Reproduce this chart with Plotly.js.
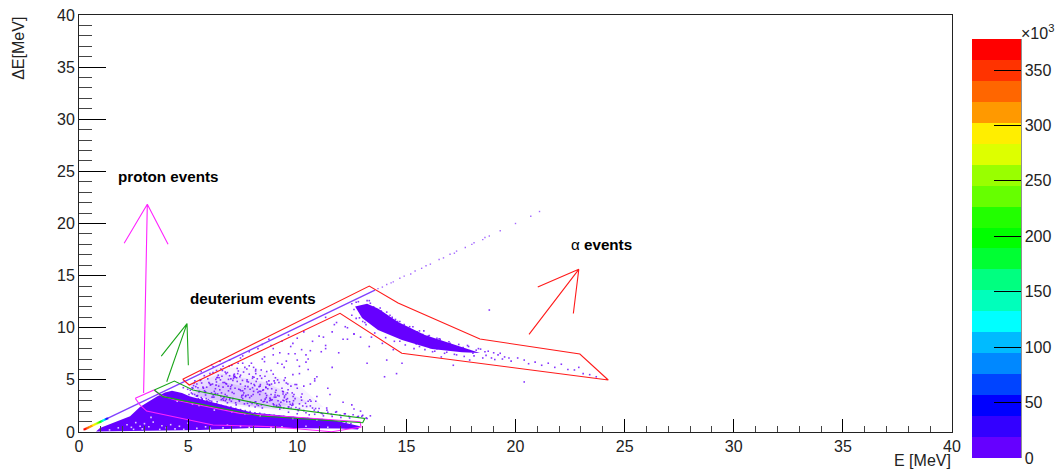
<!DOCTYPE html>
<html><head><meta charset="utf-8">
<script src="https://cdn.plot.ly/plotly-3.0.1.min.js"></script>
<style>html,body{margin:0;padding:0;background:#fff}#c{width:1061px;height:471px}</style>
</head><body><div id="c"></div>
<script>
// Graphical cuts (E, dE in MeV)
const alphaCutE=[4.75,13.30,14.62,18.37,22.95,24.25,14.79,11.96,5.05,4.75];
const alphaCutD=[5.06,14.0,12.37,8.92,7.48,4.99,7.55,11.39,4.51,5.06];
const protonCutE=[2.58,3.44,3.71,4.40,7.38,12.88,12.92,11.58,8.89,6.14,3.10,2.79,2.58];
const protonCutD=[3.23,4.03,3.55,3.07,1.79,0.99,0.48,0.03,0.51,0.67,2.01,2.59,3.23];
const deutCutE=[3.45,4.37,5.22,8.89,13.10,13.0,8.29,3.85,3.45];
const deutCutD=[4.03,4.89,4.03,2.43,1.31,0.89,1.53,3.39,4.03];
// Arrows
const protonArrowE=[2.96,3.13,2.07,3.13,4.08];
const protonArrowD=[3.73,21.85,18.1,21.85,18.0];
const deutArrowE=[4.02,4.95,3.77,4.95,5.01];
const deutArrowD=[4.82,10.4,7.27,10.4,6.4];
const alphaArrowE=[20.62,22.9,21.02,22.9,22.65];
const alphaArrowD=[9.37,15.6,13.9,15.6,11.37];
// Dense event regions
const mainE=[0.78,0.96,2.34,2.79,3.57,3.94,4.26,4.72,5.09,6.92,7.97,9.99,11.5,12.88,12.78,11.96,7.97,5.55,0.78];
const mainD=[0.05,0.38,1.5,2.4,3.4,3.8,3.95,3.75,3.4,2.4,1.85,1.45,1.2,0.55,0.25,0.33,0.38,0.19,0.05];
const alphaBandE=[12.65,13.2,13.7,14.62,15.85,17.6,18.37,17.55,16.17,14.8,13.7,12.97,12.65];
const alphaBandD=[12.05,12.3,11.85,10.55,9.3,8.15,7.58,7.65,7.96,8.82,9.78,10.93,12.05];
const hazeOuterE=[5.0,6.3,8.3,10.2,11.2,9.5,7,5.2,5.0];
const hazeOuterD=[4.6,6.3,6.0,4.3,2.4,2.0,2.5,3.4,4.6];
const hazeE=[5.09,6.5,8.5,10.5,9,7,5.3,5.09];
const hazeD=[4.5,5.6,4.8,2.9,2.2,2.7,3.4,4.5];
const hazeCoreE=[5.3,6.6,8.2,9.6,8.4,6.8,5.5,5.3];
const hazeCoreD=[4.0,4.8,4.1,2.6,2.3,2.8,3.4,4.0];
const diagE=[1.33,13.56];
const diagD=[1.33,13.6];
// Low-energy end of the diagonal, with bin content
const hotE=[0.25,0.3,0.35,0.4,0.45,0.5,0.55,0.6,0.65,0.7,0.75,0.8,0.85,0.9,0.95,1.0,1.05,1.1,1.15,1.2,1.25,1.3];
const hotD=[0.25,0.3,0.35,0.4,0.45,0.5,0.55,0.6,0.65,0.7,0.75,0.8,0.85,0.9,0.95,1.0,1.05,1.1,1.15,1.2,1.25,1.3];
const hotCounts=[370,360,350,340,330,320,315,305,300,290,280,265,250,235,215,195,170,150,130,100,70,30];
// Sparse events on the diagonal
const diagDotE=[13.7,13.9,14.1,14.3,14.4,14.7,14.9,15.2,15.4,15.7,15.9,16.1,16.5,16.7,17.0,17.2,17.3,17.7,18.0,18.1,18.5,18.6,18.8,19.3,20.0,20.7,21.1];
const diagDotD=[13.75,13.9,14.15,14.3,14.4,14.75,14.95,15.15,15.45,15.7,15.95,16.1,16.55,16.7,17.05,17.15,17.35,17.7,18.0,18.15,18.45,18.65,18.8,19.3,20.0,20.7,21.15];
// Cloud of events above the deuterium band
const cloudE=[
5.1,5.3,5.4,5.6,5.7,5.9,6.0,6.2,6.3,6.5,
6.6,6.8,6.9,7.1,7.2,7.4,7.5,7.7,7.8,8.0,
8.1,8.3,8.4,8.6,8.7,8.9,9.0,9.2,9.3,9.5,
5.25,5.5,5.8,6.05,6.35,6.55,6.85,7.05,7.35,7.6,
7.9,8.15,8.45,8.75,9.05,9.35,5.15,5.45,5.65,5.95,
6.15,6.45,6.75,6.95,7.25,7.55,7.85,8.05,8.35,8.65,
8.95,9.25,9.55,9.75,6.25,6.7,7.15,7.65,8.2,8.8,
5.35,5.75,6.4,6.62,7.0,7.45,7.95,8.5,9.1,9.65,
5.55,5.85,6.1,6.48,6.78,7.08,7.38,7.72,8.02,8.28,
8.58,8.82,9.12,9.42,9.72,9.9,10.1,10.3,10.5,10.7,
9.6,9.8,10.0,10.2,10.4,10.6,10.8,11.0,11.2,11.4,
9.85,10.05,10.25,10.55,10.85,11.1,11.35,11.6,11.8,12.0,
12.2,12.4,12.6,12.8,13.0,13.2,12.1,12.5,12.9,13.35,
6.0,6.3,6.5,6.8,7.0,7.3,7.5,7.8,8.0,8.3,
8.5,8.8,9.0,9.3,9.5,9.8,10.0,10.3,10.5,10.8,
6.6,6.9,7.1,7.4,7.6,7.9,8.1,8.4,8.6,8.9,
9.1,9.4,9.6,9.9,10.1,10.4,10.6,10.9,11.1,11.4,
7.5,7.8,8.2,8.5,8.8,9.2,9.5,9.8,10.2,10.5,
8.1,8.4,8.9,9.3,9.7,10.0,10.4,10.7,11.0,11.3,
8.7,9.1,9.6,10.1,10.6,11.2,11.6,11.9,12.2,12.6,
9.4,9.9,10.3,10.8,11.3,11.7,12.3,12.7,10.9,11.5,
5.6,6.15,6.7,7.25,7.8,8.35,8.9,9.45,10.0,6.9,
5.8,6.25,6.6,7.05,7.5,8.05,8.55,9.05,9.55,10.1,
7.15,7.7,8.25,8.8,9.35,6.35,6.85,7.4,7.95,8.6,
5.12,5.31,5.52,5.74,5.93,6.14,6.33,6.57,6.71,6.96,7.18,7.37,
5.22,5.43,5.62,5.83,6.02,6.23,6.42,6.64,6.83,7.02,7.27,7.46,
7.58,7.76,7.98,8.17,8.36,8.56,8.74,8.97,9.14,9.33,9.52,9.71,
7.63,7.84,8.07,8.26,8.44,8.63,8.85,9.03,9.22,9.41,9.62,9.83,
5.04,5.28,5.47,5.68,5.88,6.07,6.28,6.52,6.73,6.91,7.12,7.32,
7.52,7.74,7.93,8.12,8.33,8.53,8.72,8.93,9.17,9.38,9.58,9.79,
5.18,5.38,5.58,5.78,5.98,6.18,6.38,6.58,6.76,6.98,7.22,7.42,
7.62,7.82,8.02,8.22,8.42,8.62,8.83,9.02,9.26,9.48,9.68,9.94,
6.12,6.32,6.53,6.74,6.94,7.14,7.34,7.54,7.75,7.96,8.16,8.37,
8.57,8.77,8.98,9.18,9.39,9.59,9.81,10.02,10.22,10.43,10.63,10.84,
6.08,6.27,6.46,6.67,6.88,7.09,7.29,7.49,7.69,7.89,8.09,8.31,
8.52,8.73,8.94,9.16,9.36,9.57,9.77,9.97,10.18,10.38,10.58,10.78,
10.96,11.16,11.36,11.56,11.76,11.96,12.16,12.36,12.56,12.76,12.96,13.16,
4.78,4.98,5.2,5.42,5.64,5.86,6.08,6.3,6.52,6.74,6.96,7.18,
7.4,7.62,7.84,8.06,8.28,8.5,8.72,8.94,9.16,9.38,9.6,9.82,
10.04,10.26,10.48,10.7,10.92,11.14,11.36,11.58,11.8,12.02,12.24,12.46];
const cloudD=[
4.0,3.6,4.6,3.3,4.2,5.1,3.0,3.9,4.8,3.4,
4.3,2.8,5.4,3.7,2.6,4.6,3.2,5.0,2.5,3.9,
2.9,4.4,2.3,3.5,4.9,2.7,3.8,2.2,4.2,3.1,
4.45,3.85,3.55,4.55,3.65,5.35,3.95,4.95,2.95,4.15,
3.45,2.65,4.05,3.25,2.45,3.65,3.75,4.25,3.15,4.75,
3.55,4.05,3.15,4.35,4.85,3.75,2.85,4.45,3.05,4.15,
3.35,2.85,3.75,2.55,4.15,3.6,4.2,3.5,3.8,3.05,
4.35,3.95,4.4,3.05,4.5,3.35,4.25,2.95,3.5,2.9,
4.95,4.3,3.35,5.0,3.45,5.15,4.05,2.75,4.55,3.6,
3.3,4.6,3.0,3.45,2.3,3.2,2.7,2.05,2.95,2.3,
1.9,2.6,1.75,3.05,1.85,2.5,1.7,2.25,1.55,1.9,
3.6,2.05,2.5,1.65,2.95,1.8,2.3,1.5,1.95,1.4,
1.75,1.35,2.2,1.5,1.6,1.3,2.85,2.6,2.0,1.55,
5.6,5.9,6.05,5.7,6.4,5.85,6.6,5.55,6.2,5.4,
6.75,5.9,5.2,6.5,4.7,5.5,6.9,4.4,6.0,4.9,
6.3,6.9,5.3,7.1,6.2,6.6,5.6,7.0,5.8,7.4,
5.0,6.2,7.5,4.55,5.6,6.7,4.6,5.3,7.7,4.2,
7.3,7.7,8.0,7.2,8.3,7.6,6.8,8.5,7.9,7.0,
6.0,8.4,8.0,8.7,8.2,9.0,7.4,8.7,9.2,8.0,
8.9,6.6,9.3,6.3,7.8,9.1,6.2,7.6,10.1,9.4,
4.95,7.5,9.6,5.1,8.3,10.3,8.9,10.9,3.4,3.6,
5.8,6.25,5.75,6.1,6.35,5.95,5.55,5.2,4.2,3.1,
3.85,3.7,4.75,3.2,3.95,2.85,3.7,2.55,3.2,2.25,
5.25,4.85,4.35,3.6,3.05,5.25,5.05,5.45,5.15,4.8,
3.3,4.9,3.9,5.4,3.1,5.7,2.9,5.9,3.0,5.1,2.8,5.3,
4.2,3.5,4.7,3.2,4.5,3.6,5.2,3.3,4.4,3.8,5.6,3.5,
2.7,4.8,3.6,5.1,2.6,4.3,3.0,4.7,2.4,3.9,2.9,4.4,
3.4,4.1,2.4,3.9,2.9,4.6,3.1,4.0,2.5,3.3,2.4,3.0,
3.6,4.7,3.2,4.3,2.9,3.75,4.5,3.1,4.65,3.25,5.55,4.1,
3.55,4.35,2.75,4.85,3.9,3.15,4.55,2.6,3.45,2.3,4.05,2.75,
4.25,3.45,5.0,3.8,4.65,3.35,5.45,3.2,4.6,2.95,5.2,3.95,
4.4,3.3,5.25,2.55,4.0,2.85,4.15,3.35,2.35,3.6,2.65,2.35,
4.6,5.2,3.75,5.6,4.15,5.35,3.05,5.75,3.55,5.3,4.1,5.15,
4.25,3.15,3.55,2.65,3.0,2.4,3.4,2.15,3.65,2.45,2.95,2.25,
6.45,5.05,6.8,4.75,6.3,5.45,6.6,4.95,6.05,4.65,5.85,4.55,
5.35,4.5,4.9,4.75,3.85,4.6,3.75,4.55,3.35,2.75,3.1,2.1,
1.95,1.75,2.1,1.7,1.9,1.6,1.75,1.5,1.65,1.45,1.5,1.35,
4.25,4.1,3.65,3.45,3.15,3.0,2.95,2.7,2.55,2.45,2.4,2.25,
2.15,2.05,1.95,1.85,1.8,1.7,1.65,1.6,1.55,1.5,1.45,1.4,
1.35,1.3,1.3,1.25,1.2,1.2,1.15,1.05,1.0,0.95,0.9,0.8];
// Events around the alpha band and tail
const alphaScatE=[11.3,11.6,11.8,12.1,12.3,12.5,12.6,12.9,13.1,13.3,
13.4,13.6,13.9,14.1,14.3,14.5,14.7,14.9,15.1,15.3,
15.5,15.8,16.1,16.4,16.7,17.0,17.3,17.6,17.9,18.2,
13.0,13.3,13.8,14.2,14.4,14.9,15.2,15.6,16.0,16.4,
18.6,18.9,19.2,19.5,19.8,20.1,20.4,20.6,20.9,21.2,
21.5,21.8,22.1,22.4,22.7,22.9,23.1,23.4,23.7,19.0,
19.4,19.7,12.8,13.2,13.5,13.7,14.6,15.0,15.4,15.9,
18.8,20.4,14.0,14.8,14.55,16.6,17.15,17.9,13.2,14.1,
12.5,12.7,13.0,13.35,13.55,13.85,14.05,14.25,14.45,14.7,
14.95,15.15,15.35,15.6,15.85,16.05,16.3,16.5,16.75,16.95,
17.2,17.4,17.65,17.85,18.1,18.3,18.5,18.75,19.05,19.3,
12.6,12.85,13.15,13.45,13.75,14.0,14.35,14.65,15.05,15.45,
15.75,16.2,16.55,16.85,17.25,17.55,17.8,18.05,18.4,18.65];
const alphaScatD=[11.0,9.6,10.5,8.9,10.0,11.2,9.4,9.1,10.5,12.6,
9.1,11.3,8.5,11.5,9.6,10.8,8.7,10.3,8.8,10.1,
9.6,9.7,8.1,9.0,8.3,8.5,7.4,8.1,7.8,7.85,
11.9,8.2,11.9,10.3,7.9,9.7,9.4,8.2,9.2,8.0,
7.7,7.1,7.4,7.2,6.8,7.1,6.9,6.55,6.7,6.4,
6.6,6.2,6.5,6.0,5.95,6.2,5.6,5.5,5.3,7.6,
7.0,7.1,12.5,12.6,12.0,11.0,10.6,9.9,8.9,8.6,
11.7,4.8,5.3,6.6,5.6,7.2,6.4,6.9,6.6,6.9,
12.3,12.45,10.6,12.35,9.5,11.6,9.05,11.2,8.7,10.6,
8.35,10.1,8.0,9.7,7.9,9.25,7.75,8.95,7.55,8.65,
7.45,8.4,7.25,8.2,7.3,8.0,7.1,7.75,6.95,7.55,
11.75,10.95,10.3,11.85,11.25,10.05,11.0,9.1,10.0,8.45,
9.35,7.7,8.9,7.65,8.05,7.85,8.3,7.55,7.95,7.35];
// Holes in the dense proton and deuteron region
const holeE=[2.2,2.4,2.6,2.5,2.8,3.0,2.9,3.2,3.4,3.7,3.8,4.0,4.2,3.3,4.4,4.6,4.8,4.5,5.2,5.5,5.8,6.2,6.6,7.0,7.4,7.8,8.3,8.8,9.3,9.8,10.4,10.9,11.4,6.0,6.8,7.6,1.4,1.8,5.0,5.4];
const holeD=[0.7,0.45,0.9,0.25,0.55,0.8,0.3,0.5,0.95,0.25,0.6,0.4,0.7,1.4,0.3,0.55,0.25,2.95,2.7,2.55,0.5,2.1,0.4,1.95,0.55,0.45,1.55,0.45,0.5,1.3,0.55,1.15,0.45,0.35,0.65,1.75,0.2,0.4,0.85,0.35];
// Colour scale
const paletteColors=['#6600ff','#3300ff','#0000ff','#0044ff','#0088ff','#00bbff','#00ffff','#00ffbb','#00ff80','#00ff33','#00ff00','#22ff00','#66ff00','#99ff00','#ddff00','#ffee00','#ff9900','#ff6600','#ff3300','#ff0000'];
const colorTicks=[0,50,100,150,200,250,300,350];
const zMax=378;

const PURPLE='#6600ff';
const colorscale=[];
paletteColors.forEach((c,i)=>{colorscale.push([i/paletteColors.length,c]);colorscale.push([(i+1)/paletteColors.length,c]);});
const W=1061,H=471,L=79,R=952,T=15,B=432;
const line=(x,y,color,w)=>({type:'scatter',mode:'lines',x,y,line:{color,width:w||1.1},hoverinfo:'skip',showlegend:false});
const fill=(x,y,color)=>({type:'scatter',mode:'lines',x,y,fill:'toself',fillcolor:color,line:{width:0},hoverinfo:'skip',showlegend:false});
const dots=(x,y,color,op,size)=>({type:'scatter',mode:'markers',x,y,marker:{color,size:size||1.6,symbol:'square',opacity:op,line:{width:0}},hoverinfo:'skip',showlegend:false});
const traces=[
 fill(hazeOuterE,hazeOuterD,'rgba(102,0,255,0.05)'),
 fill(hazeE,hazeD,'rgba(102,0,255,0.09)'),
 fill(hazeCoreE,hazeCoreD,'rgba(102,0,255,0.11)'),
 dots(cloudE,cloudD,PURPLE,0.8),
 dots(alphaScatE,alphaScatD,PURPLE,0.8),
 fill(mainE,mainD,PURPLE),
 fill(alphaBandE,alphaBandD,PURPLE),
 dots(holeE,holeD,'#ffffff',0.8),
 line(diagE,diagD,'#8040ff',1.4),
 dots(diagDotE,diagDotD,PURPLE,0.6,1.4),
 {type:'scatter',mode:'markers',x:hotE,y:hotD,hoverinfo:'skip',showlegend:false,
  marker:{color:hotCounts,colorscale,cmin:0,cmax:zMax,size:2,symbol:'square',line:{width:0},
   colorbar:{xref:'container',yref:'paper',x:972/W,xanchor:'left',xpad:0,ypad:0,
    y:(B-458)/(B-T),yanchor:'bottom',len:458-39,lenmode:'pixels',thickness:49,thicknessmode:'pixels',
    outlinewidth:0,borderwidth:0,tickmode:'array',tickvals:colorTicks,ticks:'inside',ticklen:27,tickwidth:1,tickcolor:'#000',
    tickfont:{family:'Liberation Sans',size:16,color:'#222'}}}},
 line(alphaCutE,alphaCutD,'#ff1a1a'),
 line(protonCutE,protonCutD,'#ff22ff'),
 line(deutCutE,deutCutD,'#1aa51a'),
 line(protonArrowE,protonArrowD,'#ff22ff'),
 line(deutArrowE,deutArrowD,'#1aa51a'),
 line(alphaArrowE,alphaArrowD,'#ff1a1a')
];
const axisBase={range:[0,40],dtick:5,tick0:0,ticks:'inside',tickcolor:'#000',tickwidth:1,showgrid:false,zeroline:false,
 showline:true,linecolor:'#222',linewidth:1,mirror:true,tickfont:{family:'Liberation Sans',size:16,color:'#222'}};
const ann=(text,x,y,o)=>Object.assign({text,x,y,showarrow:false,font:{family:'Liberation Sans',size:15.2,color:'#000'}},o||{});
const layout={width:W,height:H,margin:{l:L,r:W-R,t:T,b:H-B,pad:0,autoexpand:false},paper_bgcolor:'#fff',plot_bgcolor:'#fff',showlegend:false,
 xaxis:Object.assign({},axisBase,{ticklen:13,minor:{dtick:1,ticks:'inside',ticklen:6,tickcolor:'#444',tickwidth:1,showgrid:false}}),
 yaxis:Object.assign({},axisBase,{ticklen:27,minor:{dtick:1,ticks:'inside',ticklen:13,tickcolor:'#444',tickwidth:1,showgrid:false}}),
 shapes:[{type:'line',xref:'paper',yref:'paper',x0:(1021-L)/(R-L),x1:(1021-L)/(R-L),y0:(B-458)/(B-T),y1:(B-39)/(B-T),line:{color:'#222',width:1}}],
 annotations:[
  ann('<b>proton events</b>',4.1,24.55,{xref:'x',yref:'y'}),
  ann('<b>deuterium events</b>',7.97,12.76,{xref:'x',yref:'y'}),
  ann('α <b>events</b>',23.96,17.94,{xref:'x',yref:'y'}),
  ann('E [MeV]',1,-0.068,{xref:'paper',yref:'paper',xanchor:'right',yanchor:'middle',xshift:1,font:{family:'Liberation Sans',size:16,color:'#222'}}),
  ann('ΔE[MeV]',-0.0695,1,{xref:'paper',yref:'paper',xanchor:'center',yanchor:'top',textangle:-90,font:{family:'Liberation Sans',size:16,color:'#222'}}),
  ann('×10<sup>3</sup>',(1019-L)/(R-L),(B-32)/(B-T),{xref:'paper',yref:'paper',xanchor:'left',yanchor:'middle',font:{family:'Liberation Sans',size:16,color:'#222'}})
 ]};
Plotly.newPlot('c',traces,layout,{staticPlot:true,displayModeBar:false});
</script></body></html>
